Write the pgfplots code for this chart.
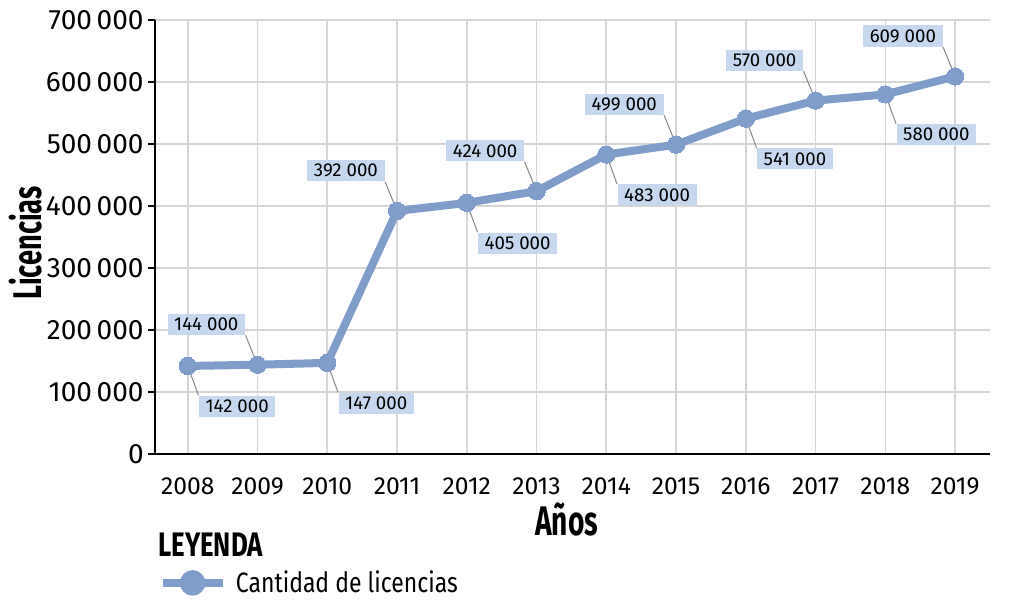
\documentclass[border=0pt]{standalone}
\usepackage{fontspec}
\setmainfont{Fira Sans}
\newfontfamily\estrecha{Fira Sans}[FakeStretch=0.82]
\newfontfamily\leyenda{Fira Sans}[FakeStretch=0.76]
\newfontfamily\titular{Fira Sans}[FakeStretch=0.68]
\usepackage{pgfplots}
\pgfplotsset{compat=1.18}
\definecolor{linea}{HTML}{7F9DC8}
\definecolor{caja}{HTML}{C7D8EE}
\definecolor{guia}{HTML}{8C8C8C}
\definecolor{rejilla}{HTML}{D6D6D6}

\begin{document}
\begin{tikzpicture}
\useasboundingbox (-116.25pt,-109.5pt) rectangle (641.25pt,340.5pt);
\begin{axis}[
    at={(0pt,0pt)}, anchor=south west,
    scale only axis, width=626.25pt, height=325.5pt,
    xmin=2007.53, xmax=2019.5,
    ymin=0, ymax=700000,
    xtick={2008,2009,...,2019},
    ytick={0,100000,...,700000},
    scaled y ticks=false,
    axis lines=left,
    axis line style={-, line width=2pt, black},
    tick align=outside,
    major tick length=5pt,
    xtick style={draw=none},
    ytick style={black, line width=1pt},
    grid=major,
    grid style={rejilla, line width=1.2pt},
    clip=false,
    /pgf/number format/assume math mode=true,
    xticklabel style={font=\fontsize{18.5}{20}\selectfont, /pgf/number format/fixed, /pgf/number format/set thousands separator={}, yshift=-9pt},
    yticklabel style={font=\fontsize{21}{24}\selectfont, /pgf/number format/fixed, /pgf/number format/1000 sep={\,}},
    xlabel={\textbf{Años}},
    ylabel={\textbf{Licencias}},
    xlabel style={font=\titular\fontsize{31}{33}\selectfont, at={(axis description cs:0.493,-0.152)}, anchor=center},
    ylabel style={font=\titular\fontsize{30}{32}\selectfont, at={(axis description cs:-0.155,0.486)}, anchor=center},
    legend style={at={(axis description cs:0.004,-0.297)}, anchor=west, draw=none, fill=none,
        font=\estrecha\fontsize{21}{24}\selectfont, inner sep=0pt},
    legend cell align=left,
    legend image code/.code={
        \draw[linea, line width=6pt] (0pt,0pt) -- (45pt,0pt);
        \fill[linea] (22.5pt,0pt) circle (6.5pt);
    },
]
\tikzset{etiqueta/.style={fill=caja, font=\fontsize{14}{16}\selectfont, inner xsep=5pt, inner ysep=3pt},
    lider/.style={draw=guia, line width=0.8pt}}
% etiquetas por debajo
\draw[lider] (axis cs:2008,142000) -- ++(8pt,-22pt) node[etiqueta, anchor=north west]{142 000};
\draw[lider] (axis cs:2010,147000) -- ++(8pt,-22pt) node[etiqueta, anchor=north west]{147 000};
\draw[lider] (axis cs:2012,405000) -- ++(8pt,-22pt) node[etiqueta, anchor=north west]{405 000};
\draw[lider] (axis cs:2014,483000) -- ++(8pt,-22pt) node[etiqueta, anchor=north west]{483 000};
\draw[lider] (axis cs:2016,541000) -- ++(8pt,-22pt) node[etiqueta, anchor=north west]{541 000};
\draw[lider] (axis cs:2018,580000) -- ++(8pt,-22pt) node[etiqueta, anchor=north west]{580 000};
% etiquetas por encima
\draw[lider] (axis cs:2009,144000) -- ++(-9pt,22pt) node[etiqueta, anchor=south east]{144 000};
\draw[lider] (axis cs:2011,392000) -- ++(-9pt,22pt) node[etiqueta, anchor=south east]{392 000};
\draw[lider] (axis cs:2013,424000) -- ++(-9pt,22pt) node[etiqueta, anchor=south east]{424 000};
\draw[lider] (axis cs:2015,499000) -- ++(-9pt,22pt) node[etiqueta, anchor=south east]{499 000};
\draw[lider] (axis cs:2017,570000) -- ++(-9pt,22pt) node[etiqueta, anchor=south east]{570 000};
\draw[lider] (axis cs:2019,609000) -- ++(-9pt,22pt) node[etiqueta, anchor=south east]{609 000};

\addplot[linea, line width=6pt, mark=*, mark size=6.5pt, mark options={linea, line width=0pt}]
    coordinates {
    (2008,142000)(2009,144000)(2010,147000)(2011,392000)(2012,405000)(2013,424000)
    (2014,483000)(2015,499000)(2016,541000)(2017,570000)(2018,580000)(2019,609000)
    };
\addlegendentry{\hspace{5pt}Cantidad de licencias}
\end{axis}
\node[anchor=west, font=\leyenda\fontsize{25.5}{28}\selectfont\bfseries, inner sep=0pt] at (2.25pt,-68.25pt) {LEYENDA};
\end{tikzpicture}
\end{document}
